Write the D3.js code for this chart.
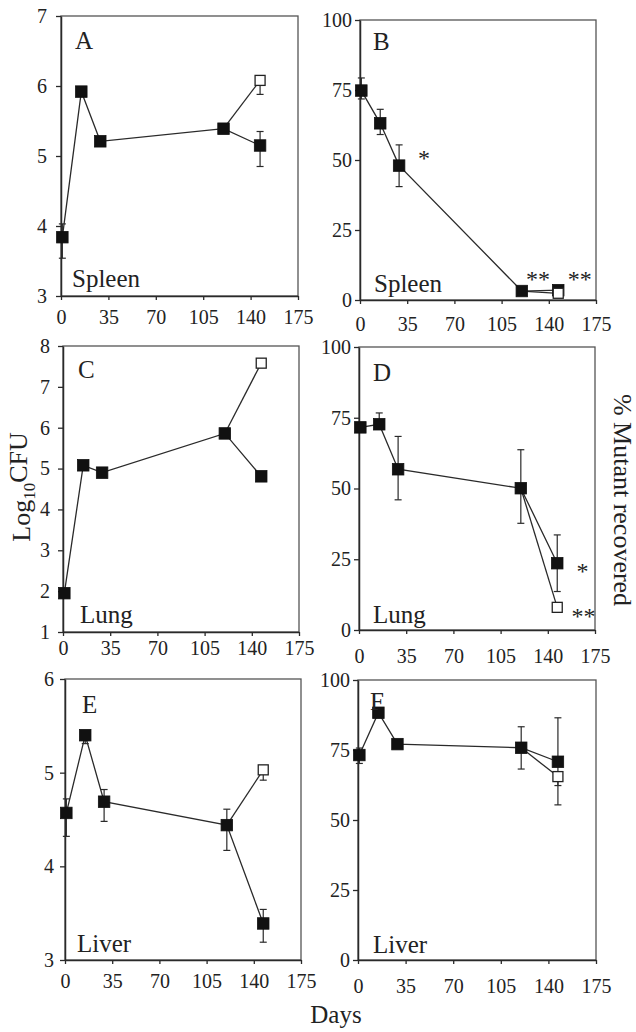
<!DOCTYPE html>
<html>
<head>
<meta charset="utf-8">
<script src="https://cdn.jsdelivr.net/npm/d3@7"></script>
<style>
  body { margin: 0; background: #fff; }
  svg text { font-family: "Liberation Serif", serif; fill: #222; }
</style>
</head>
<body>
<script>
// sampling days (shared by all panels)
const days = [1, 15, 29, 120, 147];
const dayTicks = [0, 35, 70, 105, 140, 175];

// A - spleen, log10 CFU (filled series, last day also open series)
const spleenCfu = [3.84, 5.92, 5.21, 5.39, 5.15];
const spleenCfuUp = [0.19, 0, 0, 0, 0.20];
const spleenCfuDown = [0.30, 0, 0, 0.05, 0.30];
const spleenCfuOpen = 6.08;
const spleenCfuOpenErr = [0, 0.20];

// B - spleen, % mutant recovered
const spleenPct = [74.8, 63.1, 48.0, 3.2, 3.5];
const spleenPctUp = [4.5, 5, 7.4, 0, 0];
const spleenPctDown = [3, 4, 7.5, 0, 0];
const spleenPctOpen = 2.4;
const spleenPctOpenErr = [0, 0];
const spleenPctStars = [[47.5, 47.9, "*"], [132, 4.6, "**"], [163, 4.6, "**"]];

// C - lung, log10 CFU
const lungCfu = [1.95, 5.08, 4.90, 5.86, 4.81];
const lungCfuUp = [0, 0, 0, 0, 0];
const lungCfuDown = [0, 0, 0, 0.06, 0];
const lungCfuOpen = 7.58;
const lungCfuOpenErr = [0, 0];

// D - lung, % mutant recovered
const lungPct = [71.6, 72.7, 56.8, 50.1, 23.6];
const lungPctUp = [0, 4, 11.6, 13.6, 10];
const lungPctDown = [0, 0, 10.8, 12.4, 10];
const lungPctOpen = 8.0;
const lungPctOpenErr = [0, 0];
const lungPctStars = [[165.8, 18, "*"], [166.5, 2.1, "**"]];

// E - liver, log10 CFU
const liverCfu = [4.57, 5.40, 4.69, 4.44, 3.39];
const liverCfuUp = [0.15, 0, 0.13, 0.17, 0.15];
const liverCfuDown = [0.25, 0.09, 0.21, 0.27, 0.20];
const liverCfuOpen = 5.03;
const liverCfuOpenErr = [0, 0.11];

// F - liver, % mutant recovered
const liverPct = [73.2, 88.3, 77.1, 75.8, 70.8];
const liverPctUp = [2.5, 0, 0, 7.5, 15.7];
const liverPctDown = [3, 0, 0, 7.6, 8.5];
const liverPctOpen = 65.5;
const liverPctOpenErr = [0, 10.1];

const cfuTicksA = [3, 4, 5, 6, 7];
const cfuTicksC = [1, 2, 3, 4, 5, 6, 7, 8];
const cfuTicksE = [3, 4, 5, 6];
const pctTicks = [0, 25, 50, 75, 100];

const panels = [
  { letter: "A", organ: "Spleen", vals: spleenCfu, up: spleenCfuUp, down: spleenCfuDown,
    open: spleenCfuOpen, openErr: spleenCfuOpenErr, ticks: cfuTicksA, stars: [],
    x0: 61, x1: 298, y0: 16, y1: 296, xGap: 10, yPad: 9, letterAt: [75, 49], organAt: [72, 287] },
  { letter: "B", organ: "Spleen", vals: spleenPct, up: spleenPctUp, down: spleenPctDown,
    open: spleenPctOpen, openErr: spleenPctOpenErr, ticks: pctTicks, stars: spleenPctStars,
    x0: 360, x1: 596, y0: 20, y1: 300, xGap: 13, yPad: 3, letterAt: [373, 50], organAt: [374, 292] },
  { letter: "C", organ: "Lung", vals: lungCfu, up: lungCfuUp, down: lungCfuDown,
    open: lungCfuOpen, openErr: lungCfuOpenErr, ticks: cfuTicksC, stars: [],
    x0: 63, x1: 299, y0: 346, y1: 632, xGap: 5, yPad: 8, letterAt: [78, 378], organAt: [80, 623] },
  { letter: "D", organ: "Lung", vals: lungPct, up: lungPctUp, down: lungPctDown,
    open: lungPctOpen, openErr: lungPctOpenErr, ticks: pctTicks, stars: lungPctStars,
    x0: 359, x1: 595, y0: 347, y1: 630, xGap: 15, yPad: 3, letterAt: [373, 381], organAt: [373, 623] },
  { letter: "E", organ: "Liver", vals: liverCfu, up: liverCfuUp, down: liverCfuDown,
    open: liverCfuOpen, openErr: liverCfuOpenErr, ticks: cfuTicksE, stars: [],
    x0: 65, x1: 301, y0: 679, y1: 960, xGap: 10, yPad: 6, letterAt: [82, 713], organAt: [77, 952] },
  { letter: "F", organ: "Liver", vals: liverPct, up: liverPctUp, down: liverPctDown,
    open: liverPctOpen, openErr: liverPctOpenErr, ticks: pctTicks, stars: [],
    x0: 358, x1: 596, y0: 680, y1: 960, xGap: 15, yPad: 3, letterAt: [370, 710], organAt: [373, 953] }
];

const ink = "#2a2a2a";
const serif = "Liberation Serif, serif";
const svg = d3.select("body").append("svg")
  .attr("width", 636).attr("height", 1032);

panels.forEach(p => {
  const x = d3.scaleLinear().domain([0, 175]).range([p.x0, p.x1]);
  const y = d3.scaleLinear().domain(d3.extent(p.ticks)).range([p.y1, p.y0]);
  const g = svg.append("g");

  // frame
  g.append("rect")
    .attr("x", p.x0).attr("y", p.y0)
    .attr("width", p.x1 - p.x0).attr("height", p.y1 - p.y0)
    .attr("fill", "none").attr("stroke", "#555").attr("stroke-width", 1.3);

  const yAx = g.append("g")
    .attr("transform", `translate(${p.x0},0)`)
    .call(d3.axisLeft(y).tickValues(p.ticks).tickFormat(d3.format("d"))
      .tickSize(5).tickSizeOuter(0).tickPadding(p.yPad));
  const xAx = g.append("g")
    .attr("transform", `translate(0,${p.y1})`)
    .call(d3.axisBottom(x).tickValues(dayTicks).tickFormat(d3.format("d"))
      .tickSize(4).tickSizeOuter(0).tickPadding(p.xGap));
  [yAx, xAx].forEach(a => {
    a.attr("font-family", serif).attr("font-size", 20);
    a.select(".domain").attr("stroke", ink).attr("stroke-width", 1.5);
    a.selectAll(".tick line").attr("stroke", ink).attr("stroke-width", 1.3);
    a.selectAll("text").attr("fill", "#222");
  });

  // lines
  const pts = days.map((d, i) => [x(d), y(p.vals[i])]);
  g.append("path")
    .attr("d", d3.line()(pts))
    .attr("fill", "none").attr("stroke", ink).attr("stroke-width", 1.3);
  g.append("path")
    .attr("d", d3.line()([pts[3], [x(days[4]), y(p.open)]]))
    .attr("fill", "none").attr("stroke", ink).attr("stroke-width", 1.3);

  // error bars
  const bar = (d, v, up, down) => {
    const cx = x(d), cap = 3.5;
    if (up > 0) {
      g.append("line").attr("x1", cx).attr("x2", cx).attr("y1", y(v)).attr("y2", y(v + up))
        .attr("stroke", ink).attr("stroke-width", 1.2);
      g.append("line").attr("x1", cx - cap).attr("x2", cx + cap).attr("y1", y(v + up)).attr("y2", y(v + up))
        .attr("stroke", ink).attr("stroke-width", 1.2);
    }
    if (down > 0) {
      g.append("line").attr("x1", cx).attr("x2", cx).attr("y1", y(v)).attr("y2", y(v - down))
        .attr("stroke", ink).attr("stroke-width", 1.2);
      g.append("line").attr("x1", cx - cap).attr("x2", cx + cap).attr("y1", y(v - down)).attr("y2", y(v - down))
        .attr("stroke", ink).attr("stroke-width", 1.2);
    }
  };
  days.forEach((d, i) => bar(d, p.vals[i], p.up[i], p.down[i]));
  bar(days[4], p.open, p.openErr[0], p.openErr[1]);

  // markers
  const s = 11.5;
  g.selectAll("rect.filled").data(days).join("rect")
    .attr("class", "filled")
    .attr("x", d => x(d) - s / 2)
    .attr("y", (d, i) => y(p.vals[i]) - s / 2)
    .attr("width", s).attr("height", s)
    .attr("fill", "#111").attr("stroke", "#111").attr("stroke-width", 0.8);
  const so = 10;
  g.append("rect")
    .attr("x", x(days[4]) - so / 2).attr("y", y(p.open) - so / 2)
    .attr("width", so).attr("height", so)
    .attr("fill", "#fff").attr("stroke", "#222").attr("stroke-width", 1.3);

  // significance stars
  g.selectAll("text.star").data(p.stars).join("text")
    .attr("class", "star")
    .attr("x", d => x(d[0])).attr("y", d => y(d[1]))
    .attr("text-anchor", "middle").attr("font-size", 24)
    .text(d => d[2]);

  // labels
  g.append("text").attr("x", p.letterAt[0]).attr("y", p.letterAt[1])
    .attr("font-size", 25).text(p.letter);
  g.append("text").attr("x", p.organAt[0]).attr("y", p.organAt[1])
    .attr("font-size", 25).text(p.organ);
});

// axis titles
const cfuTitle = svg.append("text")
  .attr("transform", "translate(30,487) rotate(-90)")
  .attr("text-anchor", "middle").attr("font-size", 26);
cfuTitle.append("tspan").text("Log");
cfuTitle.append("tspan").attr("font-size", 17).attr("dy", "0.3em").text("10");
cfuTitle.append("tspan").attr("dy", "-0.3em").text("CFU");

svg.append("text")
  .attr("transform", "translate(614,500) rotate(90)")
  .attr("text-anchor", "middle").attr("font-size", 26)
  .text("% Mutant recovered");

svg.append("text")
  .attr("x", 336).attr("y", 1023)
  .attr("text-anchor", "middle").attr("font-size", 25)
  .text("Days");
</script>
</body>
</html>
